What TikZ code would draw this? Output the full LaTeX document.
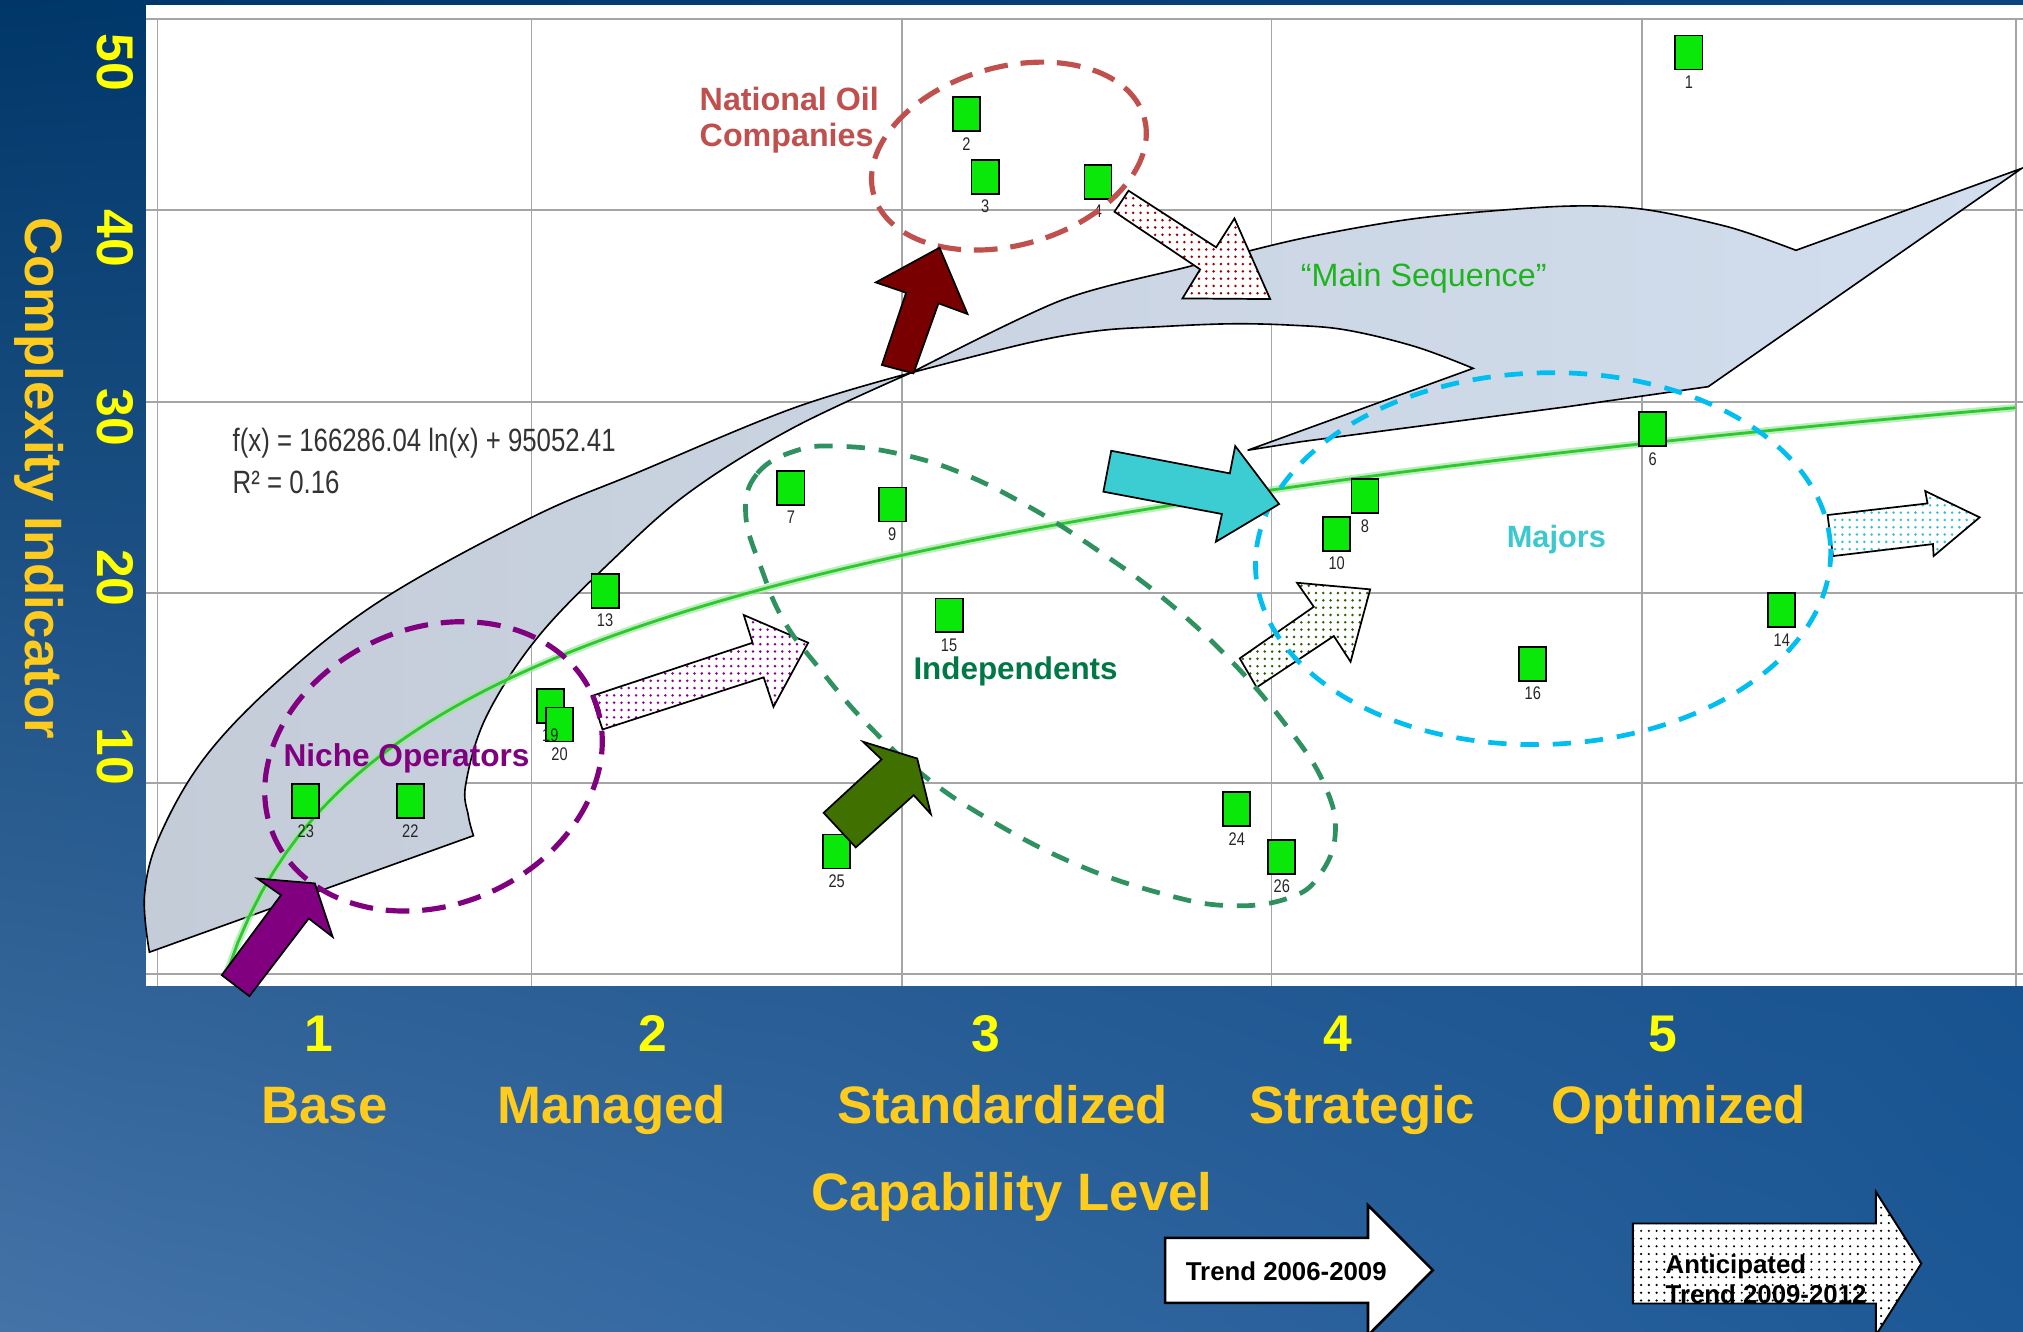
\documentclass[tikz,border=0pt]{standalone}
\usepackage{fontspec}
\setmainfont{Liberation Sans}
\newfontfamily\narrowfont[FakeStretch=0.8]{Liberation Sans}
\usetikzlibrary{patterns.meta,shadings}
\definecolor{bgA}{RGB}{0,55,105}
\definecolor{bgB}{RGB}{12,68,128}
\definecolor{bgC}{RGB}{68,115,168}
\definecolor{bgD}{RGB}{28,88,150}
\definecolor{gridc}{RGB}{165,165,165}
\definecolor{msA}{RGB}{196,204,216}
\definecolor{msB}{RGB}{210,222,238}
\definecolor{trendc}{RGB}{45,200,45}
\definecolor{mkgreen}{RGB}{10,232,10}
\definecolor{nocred}{RGB}{192,80,77}
\definecolor{nichepurple}{RGB}{128,0,128}
\definecolor{indgreen}{RGB}{46,145,95}
\definecolor{indtext}{RGB}{0,120,70}
\definecolor{majcyan}{RGB}{0,190,240}
\definecolor{majtext}{RGB}{60,200,205}
\definecolor{mstext}{RGB}{30,180,30}
\definecolor{axisyellow}{RGB}{255,255,0}
\definecolor{axisgold}{RGB}{255,204,30}
\definecolor{arrred}{RGB}{120,0,0}
\definecolor{arrgreen}{RGB}{64,112,0}
\definecolor{arrcyan}{RGB}{60,205,210}
\definecolor{dotred}{RGB}{160,0,0}
\definecolor{dotgreen}{RGB}{45,95,0}
\definecolor{dotcyan}{RGB}{50,195,205}
\definecolor{dotpurple}{RGB}{140,0,140}
\tikzset{
  gridline/.style={draw=gridc, line width=0.8pt},
  marker/.style={rectangle, draw=black, line width=0.85pt, fill=mkgreen, minimum width=12.6pt, minimum height=15.8pt, inner sep=0pt},
  mlabel/.style={inner sep=0pt, font=\narrowfont\fontsize{8.5}{9}\selectfont, text=black!85},
  solidarrow/.style={draw=black, line width=0.8pt, line join=miter, fill=#1},
  dotarrow/.style={draw=black, line width=0.8pt, preaction={fill=white}, pattern={Dots[distance=3.4pt, radius=0.65pt]}, pattern color=#1},
  groupdash/.style={draw=#1, line width=2.4pt, dash pattern=on 11pt off 6pt},
  thindash/.style={draw=#1, line width=2.2pt, dash pattern=on 8.5pt off 6.5pt},
  axisnum/.style={font=\bfseries\fontsize{24}{28}\selectfont, text=axisyellow, inner sep=0pt},
  axisword/.style={font=\bfseries\fontsize{24.5}{28}\selectfont, text=axisgold, inner sep=0pt},
  grouplabel/.style={inner sep=0pt, anchor=base west},
  trendtext/.style={font=\bfseries\fontsize{12}{14}\selectfont, inner sep=0pt, anchor=base west},
}
\begin{document}
\begin{tikzpicture}[x=0.6pt,y=-0.6pt]
\useasboundingbox (0,0) rectangle (1568,1032);
% background
\shade[upper left=bgA, upper right=bgB, lower left=bgC, lower right=bgD] (0,0) rectangle (1568,1032);
% plot area
\fill[white] (113,3.9) rectangle (1568,764);
\foreach \gy in {15,162.8,311.4,459.9,606.7,755} {\draw[gridline] (113,\gy) -- (1568,\gy);}
\foreach \gx in {122,412,699.3,985.6,1272.9,1562.4} {\draw[gridline] (\gx,15) -- (\gx,764);}
% main sequence shape
\path[draw=black, line width=0.75pt, left color=msA, right color=msB]
  plot[smooth, tension=0.6] coordinates {(115.8,738) (112,694) (123.7,648) (159.3,586.4) (218.6,525) (297.8,463.7) (412.4,400.9) (495.5,365.7) (614.2,316.6) (706,289)}
  -- plot[smooth, tension=0.5] coordinates {(706,289) (822,233) (920,207) (1008,185) (1100,169) (1208,160) (1272,162) (1340,176) (1392,194)}
  -- (1567,130.5) -- (1324,299.7) -- (1215,315.2) -- (1008,342.4) -- (967,349) -- (1141.8,285.5)
  -- plot[smooth, tension=0.6] coordinates {(1141.8,285.5) (1097,268.7) (1043.5,255.8) (1000,252) (953,251) (899,253.2) (850,256.5) (796,266) (706,289)}
  -- plot[smooth, tension=0.6] coordinates {(706,289) (614.2,331.9) (535,381) (475.7,433.1) (416.4,494.4) (376.8,555.7) (361,607.8) (363,632.3) (367,647.7)}
  -- cycle;
% trend line
\draw[trendc!45, line width=3.4pt, opacity=0.7] plot[domain=175:1562, samples=150] (\x,{518-123.2*(ln(\x-135)-5.624)});
\draw[trendc, line width=1.3pt] plot[domain=175:1562, samples=150] (\x,{518-123.2*(ln(\x-135)-5.624)});
% dotted arrows
\draw[dotarrow=dotpurple] (458.5,539.5) -- (583.3,498.2) -- (576.5,476.7) -- (626.4,498.2) -- (599.5,547.8) -- (591.9,525) -- (467,565.4) -- cycle;
\draw[dotarrow=dotred] (874.7,147.8) -- (942.6,191.7) -- (956.8,169.3) -- (984.5,231.8) -- (916.5,231.3) -- (930.2,208.8) -- (863.8,164.1) -- cycle;
\draw[dotarrow=dotgreen] (960.9,510.3) -- (1018.3,470.3) -- (1005.3,451.7) -- (1062,456.8) -- (1046.8,512.9) -- (1033.8,493) -- (974,532.8) -- cycle;
\draw[dotarrow=dotcyan] (1416.5,399.2) -- (1494,390.2) -- (1492.2,380.6) -- (1534.4,401) -- (1498.7,431) -- (1498.2,421.7) -- (1420.7,431) -- cycle;
% markers
\foreach \n/\px/\py in {1/1309/40.7, 2/749/88.5, 3/763.5/137, 4/851/141, 6/1281/332.6, 7/613/378, 8/1058/384.6, 9/691.5/391, 10/1036/413.6, 13/469/458, 14/1381/473, 15/735.6/477, 16/1188/514.6, 19/426.5/547, 20/433.7/561.5, 22/318/621, 23/237/621, 24/958.6/627, 25/648.5/660, 26/993.5/664}
  {\node[marker] (m\n) at (\px,\py) {};}
\foreach \n/\px/\py in {1/1309/40.7, 2/749/88.5, 3/763.5/137, 4/851/141, 6/1281/332.6, 7/613/378, 8/1058/384.6, 9/691.5/391, 10/1036/413.6, 13/469/458, 14/1381/473, 15/735.6/477, 16/1188/514.6, 19/426.5/547, 20/433.7/561.5, 22/318/621, 23/237/621, 24/958.6/627, 25/648.5/660, 26/993.5/664}
  {\node[mlabel] (l\n) at (\px,\py+23) {\n};}
% group outlines
\draw[groupdash=nocred, rotate around={16:(782,121)}] (782,121) ellipse [x radius=109, y radius=69];
\draw[groupdash=nichepurple, rotate around={24:(336,594)}] (336,594) ellipse [x radius=135, y radius=107];
\draw[thindash=majcyan, rotate around={2:(1196,433)}] (1196,433) ellipse [x radius=223, y radius=144];
\draw[thindash=indgreen] plot[smooth cycle, tension=0.7] coordinates {(578,399) (587,367) (618,349) (653,346) (698,352) (746,367) (798,393) (850,426) (902,464) (954,512) (999,565) (1026,607) (1035,645) (1023,678) (999,696) (954,702) (902,693) (832,669) (763,633) (712,598) (670,559) (635,518) (608,482) (591,443)};
% solid arrows
\draw[solidarrow=nichepurple] (171.9,755.8) -- (217.8,693.8) -- (199.5,680.9) -- (244,684.7) -- (257.8,726.1) -- (239.3,711.9) -- (193.3,772.1) -- cycle;
\draw[solidarrow=arrred] (683.5,282.9) -- (702.3,226.9) -- (678.8,218.9) -- (728.2,192) -- (749.9,243.4) -- (727.4,235.1) -- (708,289.4) -- cycle;
\draw[solidarrow=arrgreen] (638.4,630) -- (683.3,588.6) -- (668.9,574.9) -- (710.9,587.9) -- (721.5,631) -- (708.2,616.3) -- (663.3,656.8) -- cycle;
\draw[solidarrow=arrcyan] (861.3,349.4) -- (953.2,366.9) -- (957.4,345.7) -- (991.4,390.7) -- (942.4,419.9) -- (947.1,398.4) -- (855.2,381.1) -- cycle;
% labels in plot
\node[grouplabel, font=\bfseries\fontsize{15}{17}\selectfont, text=nocred] (noc1) at (542,85.3) {National Oil};
\node[grouplabel, font=\bfseries\fontsize{15}{17}\selectfont, text=nocred] (noc2) at (542,113.7) {Companies};
\node[grouplabel, font=\fontsize{15}{17}\selectfont, text=mstext] (ms) at (1008,222) {“Main Sequence”};
\node[grouplabel, font=\bfseries\fontsize{14.7}{17}\selectfont, text=nichepurple] (niche) at (219.5,594) {Niche Operators};
\node[grouplabel, font=\bfseries\fontsize{14.6}{17}\selectfont, text=indtext] (indep) at (707.7,527) {Independents};
\node[grouplabel, font=\bfseries\fontsize{14.3}{17}\selectfont, text=majtext] (maj) at (1167.6,424) {Majors};
\node[grouplabel, font=\narrowfont\fontsize{15}{17}\selectfont, text=black!80] (fx) at (180,350) {f(x) = 166286.04 ln(x) + 95052.41};
\node[grouplabel, font=\narrowfont\fontsize{15}{17}\selectfont, text=black!80] (r2) at (180,382.5) {R² = 0.16};
% y axis
\node[axisnum, rotate=-90] (y50) at (89,48.4) {50};
\node[axisnum, rotate=-90] (y40) at (89,184.8) {40};
\node[axisnum, rotate=-90] (y30) at (89,323.7) {30};
\node[axisnum, rotate=-90] (y20) at (89,448) {20};
\node[axisnum, rotate=-90] (y10) at (89,586) {10};
\node[axisword, rotate=-90] (ytitle) at (30.3,370.7) {Complexity Indicator};
% x axis
\node[axisnum, anchor=base] (x1) at (247.5,815) {1};
\node[axisnum, anchor=base] (x2) at (506,815) {2};
\node[axisnum, anchor=base] (x3) at (764,815) {3};
\node[axisnum, anchor=base] (x4) at (1037,815) {4};
\node[axisnum, anchor=base] (x5) at (1289,815) {5};
\node[axisword, anchor=base] (w1) at (251.5,870.8) {Base};
\node[axisword, anchor=base] (w2) at (474,870.8) {Managed};
\node[axisword, anchor=base] (w3) at (777,870.8) {Standardized};
\node[axisword, anchor=base] (w4) at (1056,870.8) {Strategic};
\node[axisword, anchor=base] (w5) at (1301,870.8) {Optimized};
\node[axisword, anchor=base] (xtitle) at (784.3,938) {Capability Level};
% trend legend arrows
\draw[draw=black, line width=1.2pt, fill=white, line join=miter] (903,959.4) -- (1060.3,959.4) -- (1060.3,934.1) -- (1110.5,984.5) -- (1060.3,1035) -- (1060.3,1009.8) -- (903,1009.8) -- cycle;
\node[trendtext] (trend1) at (918.8,992.2) {Trend 2006-2009};
\draw[draw=black, line width=0.9pt, preaction={fill=white}, pattern={Dots[distance=3.6pt, radius=0.55pt]}, pattern color=black, line join=miter] (1265.6,948.3) -- (1454,948.3) -- (1454,923.8) -- (1489.2,979.3) -- (1454,1034.8) -- (1454,1010.3) -- (1265.6,1010.3) -- cycle;
\node[trendtext] (trend2a) at (1290.7,987) {Anticipated};
\node[trendtext] (trend2b) at (1290.7,1010.3) {Trend 2009-2012};
\end{tikzpicture}
\end{document}
